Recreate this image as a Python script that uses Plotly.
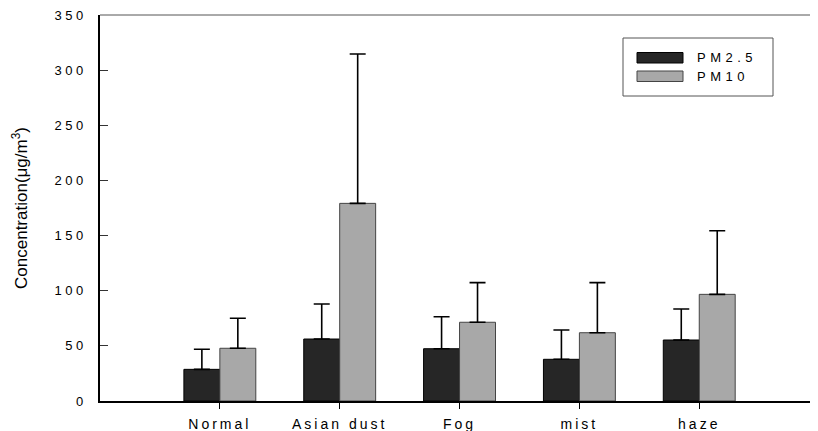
import plotly.graph_objects as go

# ---- data ----
categories = ["Normal", "Asian dust", "Fog", "mist", "haze"]
pm25 = [28.7, 56.2, 47.4, 37.8, 55.3]
pm25_err = [18.2, 31.8, 29.0, 26.6, 28.1]
pm10 = [47.8, 179.2, 71.4, 61.9, 96.7]
pm10_err = [27.2, 135.4, 35.9, 45.4, 57.7]
series_names = ["PM2.5", "PM10"]
y_ticks = [0, 50, 100, 150, 200, 250, 300, 350]
y_tick_labels = ["0", "50", "100", "150", "200", "250", "300", "350"]
y_title = "Concentration(μg/m<sup>3</sup>)"

# ---- style ----
# page body has an 8px default margin, so the figure is shrunk by 8px
OFF = 8
W, H = 818 - OFF, 431 - OFF
ML, MR, MT, MB = 100 - OFF, 0, 15 - OFF, 30
PW, PH = W - ML - MR, H - MT - MB
FONT = "Arial, Liberation Sans, sans-serif"
DARK, DARK_EDGE = "#262626", "#000000"
LIGHT, LIGHT_EDGE = "#a8a8a8", "#444444"


def px_x(x):  # page pixel -> paper
    return (x - OFF - ML) / PW


def px_y(y):
    return (H - MB - (y - OFF)) / PH


def spaced(s, sp):
    return f'<span style="letter-spacing:{sp}px">{s}</span>'


fig = go.Figure()
for name, vals, errs, fill, edge in [
    (series_names[0], pm25, pm25_err, DARK, DARK_EDGE),
    (series_names[1], pm10, pm10_err, LIGHT, LIGHT_EDGE),
]:
    fig.add_trace(go.Bar(
        x=categories, y=vals, name=name, showlegend=False,
        marker=dict(color=fill, line=dict(color=edge, width=1)),
        error_y=dict(type="data", symmetric=False, array=errs,
                     arrayminus=[0] * len(errs), color="#000000",
                     thickness=1.6, width=8),
    ))

unit = 119.85
fig.update_xaxes(
    type="category", range=[-1, -1 + PW / unit],
    tickvals=categories, ticktext=[spaced(c, 3) for c in categories],
    tickfont=dict(family=FONT, size=14, color="#000"),
    ticks="outside", ticklen=6, tickcolor="#000", tickwidth=1,
    showline=True, linecolor="#000", linewidth=1.5,
    showgrid=False, zeroline=False, ticklabelstandoff=3, automargin=False,
    ticklabeloverflow="allow",
)
fig.update_yaxes(
    range=[0, 350], tickvals=y_ticks,
    ticktext=[spaced(t, 3.5) for t in y_tick_labels],
    tickfont=dict(family=FONT, size=13, color="#000"),
    ticks="inside", ticklen=8, tickcolor="#333", tickwidth=1,
    showline=True, linecolor="#000", linewidth=1.5,
    showgrid=False, zeroline=False, ticklabelstandoff=9, automargin=False,
    ticklabeloverflow="allow",
    title=dict(text=y_title, font=dict(family=FONT, size=17, color="#000"),
               standoff=22),
)

shapes = [
    dict(type="line", xref="paper", yref="paper", x0=0, x1=1, y0=1, y1=1,
         line=dict(color="#555", width=1)),
    dict(type="rect", xref="paper", yref="paper",
         x0=px_x(623), x1=px_x(773), y0=px_y(96), y1=px_y(38),
         line=dict(color="#555", width=1), fillcolor="white"),
    dict(type="rect", xref="paper", yref="paper",
         x0=px_x(637), x1=px_x(683), y0=px_y(63), y1=px_y(52.5),
         line=dict(color=DARK_EDGE, width=1), fillcolor=DARK),
    dict(type="rect", xref="paper", yref="paper",
         x0=px_x(637), x1=px_x(683), y0=px_y(81.5), y1=px_y(71),
         line=dict(color=LIGHT_EDGE, width=1), fillcolor=LIGHT),
]
annotations = [
    dict(xref="paper", yref="paper", x=px_x(695), y=px_y(58),
         xanchor="left", yanchor="middle", showarrow=False,
         text=spaced(series_names[0], 4.5),
         font=dict(family=FONT, size=13, color="#000")),
    dict(xref="paper", yref="paper", x=px_x(695), y=px_y(76.5),
         xanchor="left", yanchor="middle", showarrow=False,
         text=spaced(series_names[1], 4.5),
         font=dict(family=FONT, size=13, color="#000")),
]

fig.update_layout(
    width=W, height=H, autosize=False,
    margin=dict(l=ML, r=MR, t=MT, b=MB, pad=0, autoexpand=False),
    barmode="group", bargap=0.4, bargroupgap=0,
    plot_bgcolor="white", paper_bgcolor="white",
    shapes=shapes, annotations=annotations,
)

fig.write_html("out.html")
